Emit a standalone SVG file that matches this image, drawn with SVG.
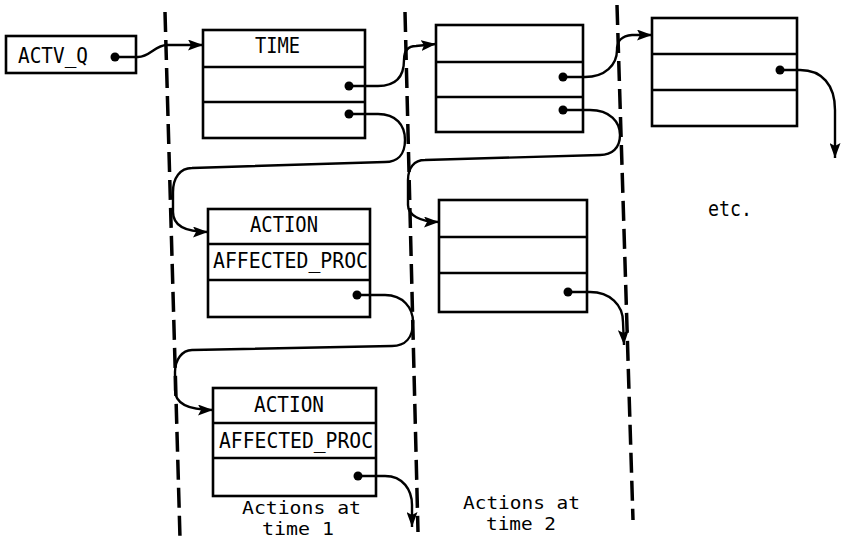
<svg xmlns="http://www.w3.org/2000/svg" width="847" height="539" viewBox="0 0 847 539">
<defs>
<style>
.box{fill:#fff;stroke:#000;stroke-width:2.6}
.div{stroke:#000;stroke-width:2.4}
.t{font-family:"DejaVu Sans Mono","Liberation Mono",monospace;font-size:22px;fill:#000}
.s{font-size:18px}
.dot{fill:#000}
.conn{fill:none;stroke:#000;stroke-width:2.4;marker-end:url(#ah)}
.dash{stroke:#000;stroke-width:3.5;stroke-dasharray:20 8;fill:none}
</style>
<marker id="ah" markerUnits="userSpaceOnUse" viewBox="0 0 15 11" refX="15" refY="5.5" markerWidth="15" markerHeight="11" orient="auto">
<path d="M0,0 L15,5.5 L0,11 L3,5.5 z" fill="#000"/>
</marker>
</defs>
<rect width="847" height="539" fill="#fff"/>
<g id="separators">
<line class="dash" x1="165" y1="12" x2="180" y2="538"/>
<line class="dash" x1="405" y1="12" x2="418" y2="532"/>
<line class="dash" x1="617" y1="5" x2="633" y2="520"/>
</g>
<g id="actv_q">
<rect class="box" x="6" y="36" width="130" height="37"/>
<text class="t" x="18" y="63" textLength="70" lengthAdjust="spacingAndGlyphs">ACTV_Q</text>
<circle class="dot" cx="115" cy="57" r="4.5"/>
</g>
<g id="time1">
<rect class="box" x="203" y="30" width="162" height="108"/>
<line class="div" x1="203" y1="67" x2="365" y2="67"/>
<line class="div" x1="203" y1="102" x2="365" y2="102"/>
<text class="t" x="255" y="53" textLength="45" lengthAdjust="spacingAndGlyphs">TIME</text>
<circle class="dot" cx="349" cy="86" r="4.5"/>
<circle class="dot" cx="349" cy="114" r="4.5"/>
</g>
<g id="action1a">
<rect class="box" x="208" y="209" width="162" height="108"/>
<line class="div" x1="208" y1="244" x2="370" y2="244"/>
<line class="div" x1="208" y1="280" x2="370" y2="280"/>
<text class="t" x="250" y="232" textLength="68" lengthAdjust="spacingAndGlyphs">ACTION</text>
<text class="t" x="213" y="268" textLength="155" lengthAdjust="spacingAndGlyphs">AFFECTED_PROC</text>
<circle class="dot" cx="357" cy="295" r="4.5"/>
</g>
<g id="action1b">
<rect class="box" x="213" y="388" width="163" height="108"/>
<line class="div" x1="213" y1="423" x2="376" y2="423"/>
<line class="div" x1="213" y1="458" x2="376" y2="458"/>
<text class="t" x="254" y="412" textLength="70" lengthAdjust="spacingAndGlyphs">ACTION</text>
<text class="t" x="219" y="448" textLength="154" lengthAdjust="spacingAndGlyphs">AFFECTED_PROC</text>
<circle class="dot" cx="358" cy="476" r="4.5"/>
</g>
<g id="time2">
<rect class="box" x="436" y="25" width="147" height="107"/>
<line class="div" x1="436" y1="62" x2="583" y2="62"/>
<line class="div" x1="436" y1="97" x2="583" y2="97"/>
<circle class="dot" cx="563" cy="77" r="4.5"/>
<circle class="dot" cx="563" cy="110" r="4.5"/>
</g>
<g id="action2">
<rect class="box" x="439" y="200" width="148" height="112"/>
<line class="div" x1="439" y1="237" x2="587" y2="237"/>
<line class="div" x1="439" y1="273" x2="587" y2="273"/>
<circle class="dot" cx="568" cy="292" r="4.5"/>
</g>
<g id="time3">
<rect class="box" x="652" y="18" width="145" height="108"/>
<line class="div" x1="652" y1="54" x2="797" y2="54"/>
<line class="div" x1="652" y1="90" x2="797" y2="90"/>
<circle class="dot" cx="780" cy="70" r="4.5"/>
</g>
<g id="connectors">
<path class="conn" d="M115,57 L138,57 C150,57 155,45 167,45 L203,45"/>
<path class="conn" d="M349,86 L378,86 C398,86 404,75 404,60 C404,50 408,46 416,46 L436,44"/>
<path class="conn" d="M349,114 L378,114 C396,114 405,125 405,140 C405,155 397,162 385,162 L192,168 C180,168 173,178 173,192 L173,212 C173,225 185,232 208,232"/>
<path class="conn" d="M357,295 L385,295 C403,295 413,308 413,322 C413,338 405,346 392,346 L192,350 C182,350 175,360 175,372 L175,390 C175,403 188,410 213,410"/>
<path class="conn" d="M358,476 L385,476 C403,476 412,490 412,505 L412,527"/>
<path class="conn" d="M563,77 L585,77 C605,77 617,65 617,50 C617,40 622,36 632,35 L652,35"/>
<path class="conn" d="M563,110 L590,110 C610,110 620,122 620,135 C620,148 612,155 600,155 L425,160 C414,160 408,168 408,180 L408,205 C408,215 420,222 439,222"/>
<path class="conn" d="M568,292 L590,292 C610,292 623,305 623,322 L624,345"/>
<path class="conn" d="M780,70 L800,70 C822,70 835,85 835,110 L835,158"/>
</g>
<g id="labels">
<text class="t s" x="242" y="514" textLength="119" lengthAdjust="spacingAndGlyphs">Actions at</text>
<text class="t s" x="262" y="535" textLength="72" lengthAdjust="spacingAndGlyphs">time 1</text>
<text class="t s" x="463" y="509" textLength="117" lengthAdjust="spacingAndGlyphs">Actions at</text>
<text class="t s" x="486" y="530" textLength="70" lengthAdjust="spacingAndGlyphs">time 2</text>
<text class="t" x="708" y="216" textLength="44" lengthAdjust="spacingAndGlyphs">etc.</text>
</g>
</svg>
